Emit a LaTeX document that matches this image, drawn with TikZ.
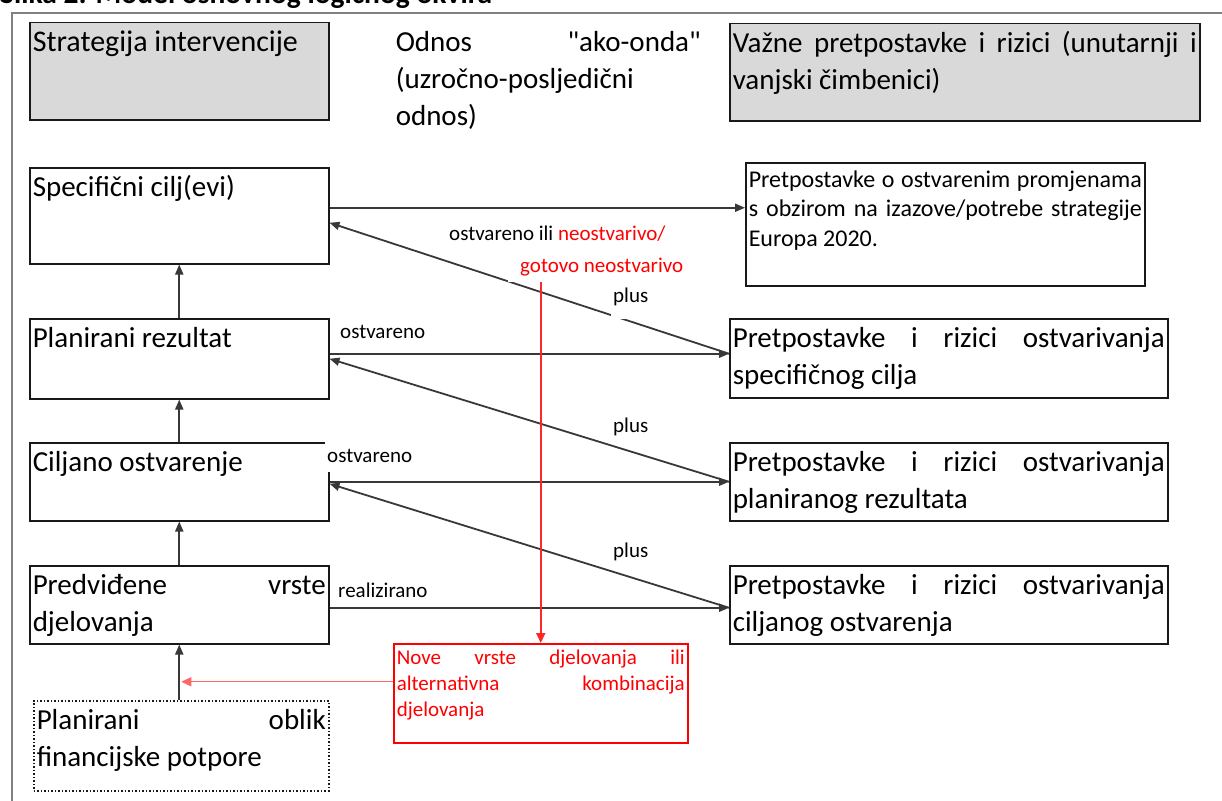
\documentclass[tikz,border=0pt]{standalone}
\usepackage{fontspec}
\setmainfont{Carlito}
\newfontfamily\plainquote{Carlito}
\usetikzlibrary{arrows.meta}
\newcommand{\cellbox}[3]{\parbox[t][#1pt][t]{#2pt}{\hyphenpenalty=10000\exhyphenpenalty=10000\strut #3}}
\newcommand{\dq}{{\plainquote\char"22}}
\tikzset{
  cell/.style={draw=black!90, line width=1.5pt, anchor=north west, inner xsep=3pt, inner ysep=3pt, font=\fontsize{29}{37}\selectfont},
  graycell/.style={cell, fill=black!15},
  redcell/.style={cell, draw=red, text=red, font=\fontsize{21}{26}\selectfont},
  lbl/.style={anchor=base west, inner xsep=2pt, inner ysep=2pt, font=\fontsize{21}{26}\selectfont},
  arr/.style={-{Triangle[length=10pt,width=8pt]}, line width=1.8pt, black!78},
  redarr/.style={-{Triangle[length=10pt,width=9pt]}, red}
}
\begin{document}
\begin{tikzpicture}[x=1pt,y=-1pt]
\useasboundingbox (0,0) rectangle (1222,800);
\node[anchor=base west, inner sep=0pt, font=\fontsize{29.5}{35}\selectfont\bfseries] (title) at (0,4) {Slika 2: Model osnovnog logičnog okvira};
\draw[black!50, line width=2.5pt] (1300,13) -- (12,13) -- (12,900);
% header row
\node[graycell] (strat) at (29,22) {\cellbox{91}{293}{\mbox{\fontsize{30}{37}\selectfont Strategija intervencije}}};
\node[cell, draw=none] (odnos) at (392,22) {\cellbox{91}{305}{Odnos \dq ako-onda\dq{} (uzročno-posljedični odnos)}};
\node[graycell] (vazne) at (729,23) {\cellbox{91}{464}{Važne pretpostavke i rizici (unutarnji i vanjski čimbenici)}};
% left column
\node[cell] (spec) at (29,167) {\cellbox{90}{293}{Specifični cilj(evi)}};
\node[cell] (rez) at (29,318) {\cellbox{74}{293}{Planirani rezultat}};
\node[cell] (ostv) at (29,442) {\cellbox{72}{293}{Ciljano ostvarenje}};
\node[cell] (djel) at (29,565) {\cellbox{72}{293}{Predviđene vrste djelovanja}};
\node[cell, dotted] (fin) at (33,700) {\cellbox{84}{289}{Planirani oblik financijske potpore}};
% right column
\node[cell, inner ysep=4pt, font=\fontsize{24}{29.5}\selectfont] (promj) at (745,162) {\cellbox{115}{393}{Pretpostavke o ostvarenim promjenama\linebreak s obzirom na izazove/potrebe strategije Europa 2020.}};
\node[cell] (pr1) at (729,318) {\cellbox{73}{432}{Pretpostavke i rizici ostvarivanja specifičnog cilja}};
\node[cell] (pr2) at (729,442) {\cellbox{72}{432}{Pretpostavke i rizici ostvarivanja planiranog rezultata}};
\node[cell] (pr3) at (729,565) {\cellbox{72}{432}{Pretpostavke i rizici ostvarivanja ciljanog ostvarenja}};
\node[redcell] (nove) at (393,643) {\cellbox{93}{288}{Nove vrste djelovanja ili alternativna kombinacija djelovanja}};
% vertical chain
\draw[arr] (rez.north) -- (spec.south);
\draw[arr] (ostv.north) -- (rez.south);
\draw[arr] (djel.north) -- (ostv.south);
\draw[arr] (fin.north -| djel.south) -- (djel.south);
% if-then links
\draw[arr] ([yshift=8pt]spec.east) -- ([yshift=8pt]spec.east -| promj.west);
\draw[arr] ([yshift=5pt]rez.east) -- ([yshift=5pt]rez.east -| pr1.west);
\draw[arr] (ostv.east) -- (ostv.east -| pr2.west);
\draw[arr] ([yshift=-3pt]djel.east) -- ([yshift=-3pt]djel.east -| pr3.west);
\draw[arr] ([yshift=5pt]rez.east -| pr1.west) -- ([yshift=-7pt]spec.east);
\draw[arr] (ostv.east -| pr2.west) -- (rez.east);
\draw[arr] ([yshift=-3pt]djel.east -| pr3.west) -- ([yshift=-2pt]ostv.east);
% labels
\node[lbl] (lbA) at (447,240) {ostvareno ili \textcolor{red}{neostvarivo/}};
\node[lbl, fill=white, inner xsep=12pt, inner ysep=0pt, text depth=10pt, text=red] (lbB) at (508,272) {gotovo neostvarivo};
\node[lbl, fill=white, text depth=15pt] (p1) at (611,302) {plus};
\node[lbl] (p2) at (611,432) {plus};
\node[lbl] (p3) at (611,557) {plus};
\node[lbl] (lr2) at (338,338) {ostvareno};
\node[lbl, fill=white, text height=18pt, text depth=8pt] (lr3) at (325,462) {ostvareno};
\node[lbl] (lr4) at (336,597) {realizirano};
% alternative path
\draw[redarr, line width=2pt, red!85] (lbB.south -| nove.north) -- (nove.north);
\draw[redarr, line width=1.2pt, red!60] ([yshift=11.5pt]nove.west) -- ([yshift=11.5pt,xshift=2pt]nove.west -| djel.south);
\end{tikzpicture}
\end{document}
